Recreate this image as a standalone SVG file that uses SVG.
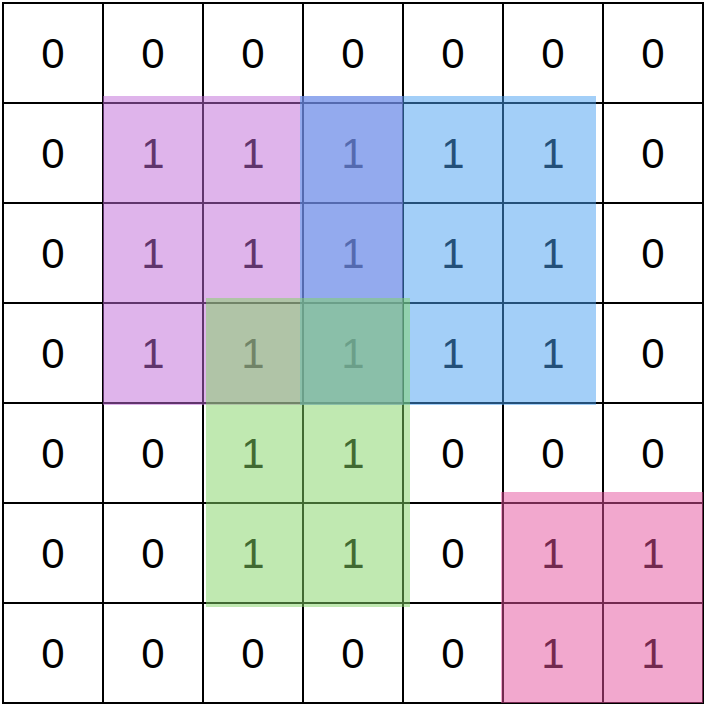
<svg xmlns="http://www.w3.org/2000/svg" width="708" height="708" viewBox="0 0 708 708">
<style>
.c rect{fill:#fff;stroke:#000;stroke-width:2}
.c text{font-family:"Liberation Sans",Arial,sans-serif;font-size:42px;fill:#000;text-anchor:middle}
.ov{opacity:0.5}
</style>
<rect width="708" height="708" fill="#fff"/>
<g id="grid" class="c">
<g id="r0">
<g id="c0_0"><rect x="3" y="3" width="100" height="100"/><text x="53" y="68">0</text></g>
<g id="c0_1"><rect x="103" y="3" width="100" height="100"/><text x="153" y="68">0</text></g>
<g id="c0_2"><rect x="203" y="3" width="100" height="100"/><text x="253" y="68">0</text></g>
<g id="c0_3"><rect x="303" y="3" width="100" height="100"/><text x="353" y="68">0</text></g>
<g id="c0_4"><rect x="403" y="3" width="100" height="100"/><text x="453" y="68">0</text></g>
<g id="c0_5"><rect x="503" y="3" width="100" height="100"/><text x="553" y="68">0</text></g>
<g id="c0_6"><rect x="603" y="3" width="100" height="100"/><text x="653" y="68">0</text></g>
</g>
<g id="r1">
<g id="c1_0"><rect x="3" y="103" width="100" height="100"/><text x="53" y="168">0</text></g>
<g id="c1_1"><rect x="103" y="103" width="100" height="100"/><text x="153" y="168">1</text></g>
<g id="c1_2"><rect x="203" y="103" width="100" height="100"/><text x="253" y="168">1</text></g>
<g id="c1_3"><rect x="303" y="103" width="100" height="100"/><text x="353" y="168">1</text></g>
<g id="c1_4"><rect x="403" y="103" width="100" height="100"/><text x="453" y="168">1</text></g>
<g id="c1_5"><rect x="503" y="103" width="100" height="100"/><text x="553" y="168">1</text></g>
<g id="c1_6"><rect x="603" y="103" width="100" height="100"/><text x="653" y="168">0</text></g>
</g>
<g id="r2">
<g id="c2_0"><rect x="3" y="203" width="100" height="100"/><text x="53" y="268">0</text></g>
<g id="c2_1"><rect x="103" y="203" width="100" height="100"/><text x="153" y="268">1</text></g>
<g id="c2_2"><rect x="203" y="203" width="100" height="100"/><text x="253" y="268">1</text></g>
<g id="c2_3"><rect x="303" y="203" width="100" height="100"/><text x="353" y="268">1</text></g>
<g id="c2_4"><rect x="403" y="203" width="100" height="100"/><text x="453" y="268">1</text></g>
<g id="c2_5"><rect x="503" y="203" width="100" height="100"/><text x="553" y="268">1</text></g>
<g id="c2_6"><rect x="603" y="203" width="100" height="100"/><text x="653" y="268">0</text></g>
</g>
<g id="r3">
<g id="c3_0"><rect x="3" y="303" width="100" height="100"/><text x="53" y="368">0</text></g>
<g id="c3_1"><rect x="103" y="303" width="100" height="100"/><text x="153" y="368">1</text></g>
<g id="c3_2"><rect x="203" y="303" width="100" height="100"/><text x="253" y="368">1</text></g>
<g id="c3_3"><rect x="303" y="303" width="100" height="100"/><text x="353" y="368">1</text></g>
<g id="c3_4"><rect x="403" y="303" width="100" height="100"/><text x="453" y="368">1</text></g>
<g id="c3_5"><rect x="503" y="303" width="100" height="100"/><text x="553" y="368">1</text></g>
<g id="c3_6"><rect x="603" y="303" width="100" height="100"/><text x="653" y="368">0</text></g>
</g>
<g id="r4">
<g id="c4_0"><rect x="3" y="403" width="100" height="100"/><text x="53" y="468">0</text></g>
<g id="c4_1"><rect x="103" y="403" width="100" height="100"/><text x="153" y="468">0</text></g>
<g id="c4_2"><rect x="203" y="403" width="100" height="100"/><text x="253" y="468">1</text></g>
<g id="c4_3"><rect x="303" y="403" width="100" height="100"/><text x="353" y="468">1</text></g>
<g id="c4_4"><rect x="403" y="403" width="100" height="100"/><text x="453" y="468">0</text></g>
<g id="c4_5"><rect x="503" y="403" width="100" height="100"/><text x="553" y="468">0</text></g>
<g id="c4_6"><rect x="603" y="403" width="100" height="100"/><text x="653" y="468">0</text></g>
</g>
<g id="r5">
<g id="c5_0"><rect x="3" y="503" width="100" height="100"/><text x="53" y="568">0</text></g>
<g id="c5_1"><rect x="103" y="503" width="100" height="100"/><text x="153" y="568">0</text></g>
<g id="c5_2"><rect x="203" y="503" width="100" height="100"/><text x="253" y="568">1</text></g>
<g id="c5_3"><rect x="303" y="503" width="100" height="100"/><text x="353" y="568">1</text></g>
<g id="c5_4"><rect x="403" y="503" width="100" height="100"/><text x="453" y="568">0</text></g>
<g id="c5_5"><rect x="503" y="503" width="100" height="100"/><text x="553" y="568">1</text></g>
<g id="c5_6"><rect x="603" y="503" width="100" height="100"/><text x="653" y="568">1</text></g>
</g>
<g id="r6">
<g id="c6_0"><rect x="3" y="603" width="100" height="100"/><text x="53" y="668">0</text></g>
<g id="c6_1"><rect x="103" y="603" width="100" height="100"/><text x="153" y="668">0</text></g>
<g id="c6_2"><rect x="203" y="603" width="100" height="100"/><text x="253" y="668">0</text></g>
<g id="c6_3"><rect x="303" y="603" width="100" height="100"/><text x="353" y="668">0</text></g>
<g id="c6_4"><rect x="403" y="603" width="100" height="100"/><text x="453" y="668">0</text></g>
<g id="c6_5"><rect x="503" y="603" width="100" height="100"/><text x="553" y="668">1</text></g>
<g id="c6_6"><rect x="603" y="603" width="100" height="100"/><text x="653" y="668">1</text></g>
</g>
</g>
<g id="regions">
<rect id="purple" class="ov" x="103" y="96" width="300" height="309" fill="#BF69D7"/>
<rect id="blue" class="ov" x="300" y="96" width="296" height="309" fill="#479FF1"/>
<rect id="green" class="ov" x="206" y="298" width="204" height="309" fill="#81D363"/>
<rect id="pink" class="ov" x="501" y="492" width="202" height="211" fill="#E5519D"/>
</g>
</svg>
